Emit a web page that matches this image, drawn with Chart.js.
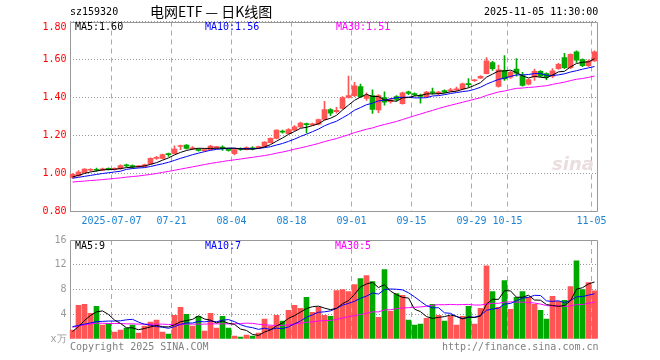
<!DOCTYPE html>
<html><head><meta charset="utf-8">
<script src="https://cdn.jsdelivr.net/npm/chart.js@4.4.1/dist/chart.umd.min.js"></script>
<style>
html,body{margin:0;padding:0;background:#fff;width:660px;height:360px;overflow:hidden;}
#wrap{position:relative;width:660px;height:360px;background:#fff;}
canvas{position:absolute;left:0;}
.t{position:absolute;font-family:"DejaVu Sans Mono",monospace;font-size:10px;line-height:12px;white-space:pre;}
</style></head><body>
<div id="wrap">
<canvas id="main" width="660" height="232" style="top:0px;width:660px;height:232px"></canvas>
<canvas id="vol" width="660" height="118" style="top:230px;width:660px;height:118px"></canvas>
<div class="t" style="left:70px;top:6px;color:#000">sz159320</div>
<div class="t" style="left:150px;top:3px;font-family:'Noto Sans CJK SC',sans-serif;font-size:14px;line-height:17px;color:#000">电网ETF — 日K线图</div>
<div class="t" style="left:484px;top:6px;color:#000">2025-11-05 11:30:00</div>
<div class="t" style="left:75px;top:21px;color:#000">MA5:1.60</div>
<div class="t" style="left:205px;top:21px;color:#0000ff">MA10:1.56</div>
<div class="t" style="left:336px;top:21px;color:#ff00ff">MA30:1.51</div>
<div class="t" style="left:75px;top:240px;color:#000">MA5:9</div>
<div class="t" style="left:205px;top:240px;color:#0000ff">MA10:7</div>
<div class="t" style="left:335px;top:240px;color:#ff00ff">MA30:5</div>
<div class="t" style="left:70px;top:341px;color:#808080">Copyright 2025 SINA.COM</div>
<div class="t" style="left:442px;top:341px;color:#808080">http://finance.sina.com.cn</div>
<div class="t" style="left:552px;top:154px;font-family:'DejaVu Sans',sans-serif;font-size:18px;line-height:20px;font-weight:bold;font-style:italic;color:#eadede">sina</div>
</div>
<script>
const dates = ['2025-06-26','2025-06-27','2025-06-30','2025-07-01','2025-07-02','2025-07-03','2025-07-04','2025-07-07','2025-07-08','2025-07-09',
'2025-07-10','2025-07-11','2025-07-14','2025-07-15','2025-07-16','2025-07-17','2025-07-18','2025-07-21','2025-07-22','2025-07-23',
'2025-07-24','2025-07-25','2025-07-28','2025-07-29','2025-07-30','2025-07-31','2025-08-01','2025-08-04','2025-08-05','2025-08-06',
'2025-08-07','2025-08-08','2025-08-11','2025-08-12','2025-08-13','2025-08-14','2025-08-15','2025-08-18','2025-08-19','2025-08-20',
'2025-08-21','2025-08-22','2025-08-25','2025-08-26','2025-08-27','2025-08-28','2025-08-29','2025-09-01','2025-09-02','2025-09-03',
'2025-09-04','2025-09-05','2025-09-08','2025-09-09','2025-09-10','2025-09-11','2025-09-12','2025-09-15','2025-09-16','2025-09-17',
'2025-09-18','2025-09-19','2025-09-22','2025-09-23','2025-09-24','2025-09-25','2025-09-26','2025-09-29','2025-09-30','2025-10-09',
'2025-10-10','2025-10-13','2025-10-14','2025-10-15','2025-10-16','2025-10-17','2025-10-20','2025-10-21','2025-10-22','2025-10-23',
'2025-10-24','2025-10-27','2025-10-28','2025-10-29','2025-10-30','2025-10-31','2025-11-03','2025-11-05'];
const tickLabels = ['2025-07-07','07-21','08-04','08-18','09-01','09-15','09-29','10-15','11-05'];
const priceTicks = [0.80,1.00,1.20,1.40,1.60,1.80];
const volTicks = [0,4,8,12,16];

const open = [0.980,0.988,1.005,1.017,1.022,1.018,1.027,1.022,1.025,1.042,1.040,1.035,1.036,1.050,1.080,1.080,1.101,1.105,1.142,1.150,
1.130,1.126,1.120,1.126,1.136,1.138,1.126,1.105,1.130,1.126,1.134,1.136,1.143,1.162,1.184,1.222,1.210,1.228,1.245,1.262,
1.256,1.259,1.284,1.337,1.325,1.342,1.400,1.409,1.458,1.395,1.410,1.335,1.400,1.378,1.405,1.368,1.430,1.420,1.412,1.405,
1.430,1.420,1.437,1.435,1.440,1.445,1.472,1.488,1.502,1.526,1.584,1.458,1.542,1.507,1.550,1.515,1.470,1.508,1.538,1.526,
1.512,1.552,1.610,1.557,1.640,1.600,1.568,1.593];
const high = [1.000,1.015,1.026,1.026,1.028,1.028,1.030,1.030,1.045,1.050,1.045,1.042,1.050,1.082,1.090,1.102,1.108,1.145,1.150,1.152,
1.142,1.130,1.130,1.148,1.142,1.145,1.128,1.128,1.135,1.140,1.142,1.144,1.168,1.188,1.230,1.228,1.236,1.252,1.270,1.266,
1.265,1.287,1.380,1.342,1.348,1.405,1.513,1.480,1.470,1.425,1.440,1.415,1.430,1.395,1.410,1.428,1.434,1.425,1.418,1.432,
1.450,1.432,1.440,1.448,1.455,1.476,1.500,1.496,1.515,1.610,1.590,1.570,1.620,1.538,1.605,1.533,1.498,1.550,1.542,1.530,
1.552,1.580,1.632,1.630,1.645,1.604,1.598,1.645];
const low = [0.975,0.985,1.003,1.012,1.012,1.015,1.018,1.018,1.022,1.034,1.030,1.032,1.034,1.048,1.074,1.077,1.090,1.103,1.125,1.128,
1.125,1.118,1.117,1.124,1.130,1.122,1.118,1.098,1.122,1.124,1.124,1.132,1.140,1.160,1.182,1.212,1.208,1.226,1.243,1.214,
1.252,1.256,1.282,1.305,1.318,1.338,1.396,1.405,1.400,1.385,1.316,1.320,1.360,1.370,1.382,1.365,1.415,1.408,1.370,1.400,
1.418,1.415,1.424,1.430,1.436,1.440,1.455,1.484,1.500,1.524,1.543,1.455,1.490,1.500,1.512,1.459,1.466,1.490,1.508,1.494,
1.505,1.548,1.552,1.552,1.585,1.562,1.562,1.590];
const close = [0.996,1.008,1.023,1.020,1.017,1.025,1.022,1.026,1.042,1.040,1.036,1.038,1.046,1.080,1.084,1.100,1.099,1.128,1.146,1.132,
1.135,1.122,1.126,1.144,1.138,1.134,1.122,1.126,1.127,1.137,1.130,1.140,1.166,1.185,1.228,1.218,1.231,1.245,1.266,1.257,
1.260,1.284,1.337,1.318,1.333,1.400,1.410,1.462,1.405,1.410,1.337,1.410,1.375,1.388,1.390,1.425,1.422,1.413,1.406,1.428,
1.425,1.428,1.428,1.440,1.446,1.472,1.468,1.492,1.512,1.593,1.552,1.545,1.498,1.533,1.528,1.464,1.494,1.538,1.512,1.508,
1.540,1.575,1.557,1.627,1.596,1.568,1.591,1.640];
const volume = [1.44,5.44,5.6,4.16,5.28,2.24,2.5,1.12,1.44,1.76,2.24,0.96,2.08,2.72,3.04,1.12,0.8,3.84,5.12,4.0,
2.08,3.68,1.28,4.16,1.76,3.68,1.76,0.48,0.32,0.64,0.48,0.96,3.2,2.08,3.84,2.88,4.64,5.44,4.96,6.72,
4.32,5.12,3.84,3.68,7.84,8.0,7.68,8.8,9.76,10.24,9.28,3.52,11.2,4.48,7.36,7.04,3.04,2.24,2.4,3.36,
5.6,3.84,2.88,3.68,2.24,3.68,5.28,2.4,4.96,11.84,7.68,5.12,9.44,4.8,6.72,7.68,6.72,5.6,4.64,3.2,
6.88,6.08,6.24,8.48,12.64,8.0,9.12,7.8];
const ma5 = [0.982,0.990,1.000,1.008,1.013,1.019,1.021,1.022,1.026,1.031,1.033,1.036,1.040,1.048,1.057,1.070,1.082,1.098,1.111,1.121,
1.128,1.133,1.132,1.132,1.133,1.133,1.133,1.133,1.129,1.129,1.128,1.132,1.140,1.152,1.170,1.187,1.206,1.221,1.238,1.243,
1.252,1.262,1.281,1.291,1.306,1.334,1.360,1.385,1.402,1.417,1.405,1.405,1.387,1.384,1.380,1.398,1.400,1.408,1.411,1.419,
1.419,1.420,1.423,1.430,1.433,1.443,1.451,1.464,1.478,1.507,1.523,1.539,1.540,1.544,1.531,1.514,1.503,1.511,1.507,1.503,
1.518,1.535,1.538,1.561,1.579,1.585,1.588,1.604];
const ma10 = [0.975,0.980,0.985,0.990,0.995,1.000,1.004,1.008,1.012,1.022,1.026,1.029,1.031,1.037,1.044,1.051,1.059,1.069,1.080,1.089,
1.099,1.107,1.115,1.122,1.127,1.130,1.133,1.133,1.131,1.131,1.131,1.132,1.136,1.141,1.150,1.158,1.169,1.181,1.195,1.207,
1.220,1.234,1.251,1.264,1.275,1.293,1.311,1.333,1.347,1.362,1.370,1.382,1.386,1.393,1.399,1.401,1.402,1.398,1.398,1.399,
1.408,1.410,1.415,1.421,1.426,1.431,1.435,1.443,1.454,1.470,1.483,1.495,1.502,1.511,1.519,1.519,1.521,1.526,1.526,1.517,
1.516,1.519,1.525,1.534,1.541,1.549,1.556,1.563];
const ma30 = [0.955,0.958,0.960,0.963,0.965,0.968,0.971,0.974,0.977,0.981,0.984,0.987,0.991,0.995,1.000,1.006,1.011,1.017,1.023,1.029,
1.035,1.041,1.047,1.053,1.058,1.063,1.068,1.072,1.076,1.081,1.085,1.090,1.094,1.100,1.107,1.113,1.120,1.128,1.135,1.142,
1.150,1.158,1.168,1.176,1.184,1.194,1.204,1.215,1.224,1.233,1.240,1.250,1.258,1.266,1.274,1.284,1.294,1.304,1.313,1.323,
1.332,1.342,1.351,1.359,1.367,1.375,1.383,1.391,1.399,1.411,1.420,1.429,1.434,1.442,1.448,1.450,1.453,1.455,1.459,1.462,
1.469,1.475,1.481,1.489,1.496,1.500,1.506,1.513];
const vma5 = [1.2,2.0,3.0,3.8,4.38,4.54,3.96,3.06,2.52,1.81,1.81,1.50,1.70,1.95,2.21,1.98,1.95,2.30,2.78,2.98,
3.17,3.74,3.23,3.04,2.59,2.91,2.53,2.37,1.60,1.38,0.74,0.58,1.12,1.47,2.11,2.59,3.33,3.78,4.35,4.93,
5.22,5.31,4.99,4.74,4.96,5.70,6.21,7.20,8.42,8.90,9.15,8.32,8.80,7.74,7.17,6.72,6.62,4.83,4.42,3.62,
3.33,3.49,3.62,3.87,3.65,3.26,3.55,3.46,3.71,5.63,6.43,6.40,7.81,7.78,6.75,6.75,7.07,6.30,6.27,5.57,
5.41,5.28,5.41,6.18,8.06,8.29,8.90,9.21];
const vma10 = [2.0,2.2,2.4,2.6,2.8,2.85,2.9,2.9,2.95,3.10,3.18,2.73,2.38,2.24,2.01,1.90,1.73,2.00,2.37,2.60,
2.58,2.85,2.77,2.91,2.79,3.04,3.14,2.80,2.32,1.99,1.83,1.56,1.75,1.54,1.75,1.67,1.96,2.45,2.91,3.52,
3.91,4.32,4.39,4.55,4.95,5.46,5.76,6.10,6.58,6.93,7.43,7.27,8.00,8.08,8.04,7.94,7.47,6.82,6.08,5.40,
5.03,5.06,4.23,4.15,3.64,3.30,3.52,3.54,3.79,4.64,4.85,4.98,5.64,5.75,6.19,6.59,6.74,7.06,7.03,6.16,
6.08,6.18,5.86,6.23,6.82,6.85,7.09,7.31];
const vma30 = [1.9,2.1,2.3,2.45,2.55,2.55,2.5,2.5,2.5,2.45,2.45,2.4,2.4,2.4,2.4,2.4,2.35,2.35,2.35,2.4,
2.4,2.4,2.4,2.45,2.45,2.45,2.45,2.45,2.5,2.56,2.53,2.38,2.30,2.23,2.18,2.20,2.27,2.42,2.54,2.70,
2.77,2.91,2.97,3.00,3.16,3.39,3.62,3.78,3.94,4.15,4.39,4.38,4.71,4.72,4.91,5.02,5.06,5.12,5.19,5.28,
5.45,5.55,5.54,5.59,5.54,5.57,5.59,5.49,5.49,5.66,5.77,5.77,5.96,5.99,5.96,5.95,5.91,5.81,5.64,5.40,
5.32,5.41,5.24,5.37,5.55,5.58,5.78,5.97];

const UP = '#ff5555', DOWN = '#00a800';
const barColors = close.map((c, i) => c >= open[i] ? UP : DOWN);
const shownLabel = dates.map(d => { const t = tickLabels.find(l => d.endsWith(l)); return t || ''; });
const MONO = 'DejaVu Sans Mono';

const frame = {
  id: 'frame',
  beforeDatasetsDraw(chart, args, opts) {
    const {ctx, chartArea: a} = chart;
    ctx.save();
    ctx.strokeStyle = '#999';
    ctx.lineWidth = 1;
    ctx.setLineDash([]);
    const l = Math.round(a.left) + 0.5, r = Math.round(a.right) - 0.5;
    const t = Math.round(a.top) + 0.5, b = Math.round(a.bottom) - 0.5;
    ctx.beginPath();
    ctx.moveTo(l, b); ctx.lineTo(l, t); ctx.lineTo(r, t); ctx.lineTo(r, b);
    if (opts.bottom) ctx.lineTo(l, b);
    ctx.stroke();
    ctx.restore();
  },
  afterDraw(chart, args, opts) {
    if (!opts.priceLabels) return;
    const {ctx, chartArea: a} = chart;
    const ys = chart.scales.y;
    ctx.save();
    ctx.fillStyle = '#ff0000';
    ctx.font = '10px "' + MONO + '"';
    ctx.textAlign = 'right';
    ctx.textBaseline = 'middle';
    priceTicks.forEach(v => {
      const y = Math.max(ys.getPixelForValue(v), a.top + 6);
      ctx.fillText(v.toFixed(2), a.left - 3, y);
    });
    ctx.restore();
  }
};

function xScale(showTicks, height) {
  return {
    type: 'category', offset: true,
    grid: { offset: true, drawTicks: false, lineWidth: 1,
      color: c => (shownLabel[c.index] ? '#aaa' : 'rgba(0,0,0,0)') },
    border: { display: false, dash: [5, 4] },
    ticks: { display: showTicks, autoSkip: false, maxRotation: 0, minRotation: 0, padding: 4, labelOffset: -3,
      color: '#1a84d6', font: { family: MONO, size: 10 },
      callback: (v, i) => shownLabel[i] },
    afterFit: s => { s.height = height; }
  };
}
function lineDs(data, color) {
  return { type: 'line', data, borderColor: color, borderWidth: 1, pointRadius: 0, tension: 0, order: 0, fill: false };
}

new Chart(document.getElementById('main'), {
  type: 'bar',
  data: {
    labels: dates,
    datasets: [
      lineDs(ma5, '#000000'), lineDs(ma10, '#0000ff'), lineDs(ma30, '#ff00ff'),
      { type: 'bar', data: open.map((o, i) => [o, close[i]]), backgroundColor: barColors, barThickness: 5, grouped: false, minBarLength: 1, borderWidth: 0, order: 1 },
      { type: 'bar', data: low.map((l, i) => [l, high[i]]), backgroundColor: barColors, barThickness: 1, grouped: false, borderWidth: 0, order: 2 }
    ]
  },
  options: {
    responsive: false, animation: false, devicePixelRatio: 1,
    layout: { padding: { top: 21.5, right: 62.5, left: 0, bottom: 0 } },
    plugins: { legend: { display: false }, tooltip: { enabled: false }, frame: { bottom: true, priceLabels: true } },
    scales: {
      x: xScale(true, 20.5),
      y: {
        min: 0.8, max: 1.8,
        afterBuildTicks: s => { s.ticks = priceTicks.map(v => ({ value: v })); },
        grid: { color: '#999', drawTicks: false, lineWidth: 1 },
        border: { display: false, dash: [1, 2] },
        ticks: { display: false },
        afterFit: s => { s.width = 69.5; }
      }
    }
  },
  plugins: [frame]
});

new Chart(document.getElementById('vol'), {
  type: 'bar',
  data: {
    labels: dates,
    datasets: [
      lineDs(vma5, '#000000'), lineDs(vma10, '#0000ff'), lineDs(vma30, '#ff00ff'),
      { type: 'bar', data: volume, backgroundColor: barColors, barThickness: 5, borderWidth: 0, order: 1 }
    ]
  },
  options: {
    responsive: false, animation: false, devicePixelRatio: 1,
    layout: { padding: { top: 10, right: 62.5, left: 0, bottom: 0 } },
    plugins: { legend: { display: false }, tooltip: { enabled: false }, frame: { bottom: false, priceLabels: false } },
    scales: {
      x: xScale(false, 8),
      y: {
        min: 0, max: 16,
        afterBuildTicks: s => { s.ticks = volTicks.map(v => ({ value: v })); },
        grid: { color: c => (c.tick && (c.tick.value === 0 || c.tick.value === 16)) ? 'rgba(0,0,0,0)' : '#999', drawTicks: false, lineWidth: 1 },
        border: { display: false, dash: [1, 2] },
        ticks: { color: '#999', padding: 3, font: { family: MONO, size: 10 }, callback: v => (v === 0 ? 'x万' : String(v)) },
        afterFit: s => { s.width = 69.5; }
      }
    }
  },
  plugins: [frame]
});
</script>
</body></html>
